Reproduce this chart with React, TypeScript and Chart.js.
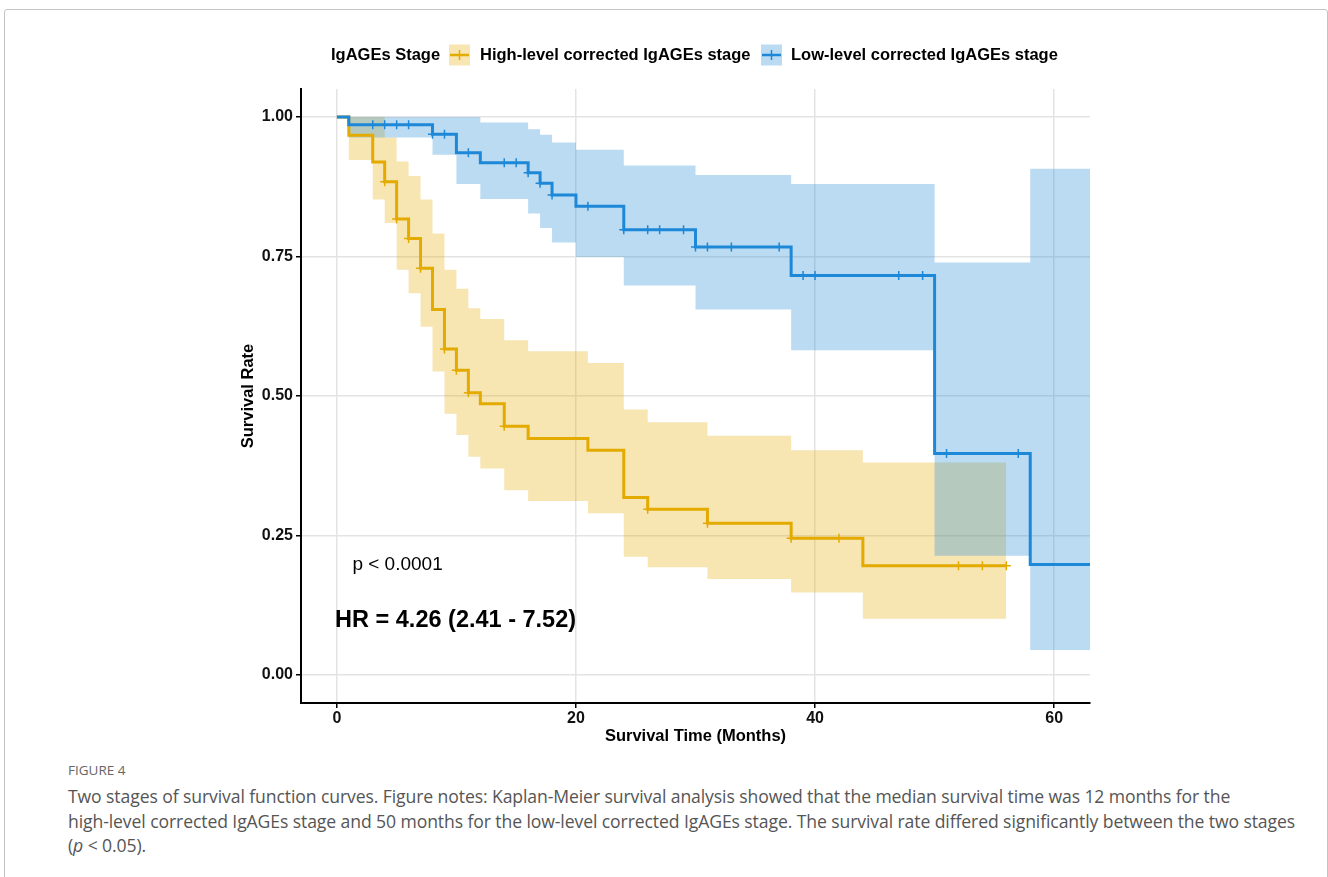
import React, { useEffect, useRef } from 'react';
import { Chart, registerables } from 'chart.js';

Chart.register(...registerables);

const FONT = '"Liberation Sans", Arial, Helvetica, sans-serif';

// Axes
const xTicks = [0, 20, 40, 60];
const yTicks = [0, 0.25, 0.5, 0.75, 1];
const xRange = [-3, 63];
const yRange = [-0.05, 1.05];
const xTitle = 'Survival Time (Months)';
const yTitle = 'Survival Rate';

// Legend / labels
const legendTitle = 'IgAGEs Stage';
const seriesNames = ['High-level corrected IgAGEs stage', 'Low-level corrected IgAGEs stage'];
const pValueText = 'p < 0.0001';
const hrText = 'HR = 4.26 (2.41 - 7.52)';

// High-level corrected IgAGEs stage (Kaplan-Meier steps)
const highTimes = [0, 1, 3, 4, 5, 6, 7, 8, 9, 10, 11, 12, 14, 16, 21, 24, 26, 31, 38, 44, 56];
const highSurv = [1, 0.967, 0.919, 0.884, 0.817, 0.782, 0.729, 0.655, 0.584, 0.546, 0.506, 0.486, 0.446, 0.424, 0.403, 0.318, 0.297, 0.272, 0.245, 0.196, 0.196];
const highUpper = [1, 1, 1, 0.963, 0.92, 0.894, 0.852, 0.791, 0.726, 0.692, 0.657, 0.638, 0.6, 0.58, 0.559, 0.476, 0.453, 0.429, 0.403, 0.381, 0.381];
const highLower = [1, 0.923, 0.852, 0.81, 0.726, 0.684, 0.624, 0.544, 0.468, 0.43, 0.391, 0.37, 0.331, 0.312, 0.29, 0.212, 0.193, 0.172, 0.148, 0.101, 0.101];
const highCensor = [4, 5, 6, 7, 9, 10, 11, 14, 26, 31, 38, 42, 52, 54, 56];

// Low-level corrected IgAGEs stage
const lowTimes = [0, 1, 8, 10, 12, 16, 17, 18, 20, 24, 30, 38, 50, 58, 63];
const lowSurv = [1, 0.986, 0.969, 0.936, 0.918, 0.9, 0.881, 0.86, 0.84, 0.798, 0.767, 0.716, 0.397, 0.198, 0.198];
const lowUpper = [1, 1, 1, 1, 0.99, 0.978, 0.968, 0.954, 0.941, 0.913, 0.896, 0.88, 0.739, 0.907, 0.907];
const lowLower = [1, 0.963, 0.932, 0.88, 0.853, 0.827, 0.801, 0.775, 0.749, 0.698, 0.655, 0.582, 0.214, 0.045, 0.045];
const lowCensor = [3, 4, 5, 6, 8, 9, 11, 14, 15, 16, 17, 18, 21, 24, 26, 27, 29, 30, 31, 33, 37, 39, 40, 47, 49, 51, 57];

// Annotation anchors (data coordinates)
const pValuePos = { x: 1.3, y: 0.197 };
const hrPos = { x: -0.15, y: 0.097 };

const GOLD = '#E3AA00';
const GOLD_BAND = 'rgba(227,170,0,0.30)';
const BLUE = '#1E88D8';
const BLUE_BAND = 'rgba(30,136,216,0.30)';

const pts = (t: number[], v: number[]) => t.map((x, i) => ({ x, y: v[i] }));
const stepAt = (times: number[], surv: number[], t: number) => {
  let s = surv[0];
  for (let i = 0; i < times.length; i++) if (times[i] <= t) s = surv[i];
  return s;
};
const censorPts = (c: number[], times: number[], surv: number[]) =>
  c.map((t) => ({ x: t, y: stepAt(times, surv, t) }));

function drawSwatch(ctx: CanvasRenderingContext2D, x: number, y: number, size: number, fill: string, line: string) {
  ctx.fillStyle = fill;
  ctx.fillRect(x, y - size / 2, size, size);
  ctx.strokeStyle = line;
  ctx.lineWidth = 2.5;
  ctx.beginPath();
  ctx.moveTo(x + 1, y);
  ctx.lineTo(x + size - 1, y);
  ctx.stroke();
  ctx.lineWidth = 1.5;
  ctx.beginPath();
  ctx.moveTo(x + size / 2, y - 5);
  ctx.lineTo(x + size / 2, y + 5);
  ctx.stroke();
}

const overlayPlugin = {
  id: 'overlay',
  afterDraw(chart: any) {
    const ctx: CanvasRenderingContext2D = chart.ctx;
    const xs = chart.scales.x;
    const ys = chart.scales.y;
    ctx.save();
    ctx.textBaseline = 'middle';
    ctx.textAlign = 'left';
    ctx.fillStyle = '#000';
    // legend
    ctx.font = `bold 16.5px ${FONT}`;
    const ly = 55;
    ctx.fillText(legendTitle, 331, ly);
    drawSwatch(ctx, 449, ly, 21, GOLD_BAND, GOLD);
    ctx.fillStyle = '#000';
    ctx.fillText(seriesNames[0], 480, ly);
    drawSwatch(ctx, 761, ly, 21, BLUE_BAND, BLUE);
    ctx.fillStyle = '#000';
    ctx.fillText(seriesNames[1], 791, ly);
    // annotations
    ctx.font = `19px ${FONT}`;
    ctx.fillText(pValueText, xs.getPixelForValue(pValuePos.x), ys.getPixelForValue(pValuePos.y));
    ctx.font = `bold 23.5px ${FONT}`;
    ctx.fillText(hrText, xs.getPixelForValue(hrPos.x), ys.getPixelForValue(hrPos.y));
    ctx.restore();
  },
};

function KMChart() {
  const ref = useRef<HTMLCanvasElement>(null);
  useEffect(() => {
    if (!ref.current) return;
    const bandBase = { borderWidth: 0, pointRadius: 0, stepped: true as const };
    const chart = new Chart(ref.current, {
      type: 'line',
      data: {
        datasets: [
          { ...bandBase, label: 'gu', data: pts(highTimes, highUpper), fill: '+1', backgroundColor: GOLD_BAND, borderColor: 'transparent', order: 9 },
          { ...bandBase, label: 'gl', data: pts(highTimes, highLower), fill: false, borderColor: 'transparent', order: 9 },
          { ...bandBase, label: 'bu', data: pts(lowTimes, lowUpper), fill: '+1', backgroundColor: BLUE_BAND, borderColor: 'transparent', order: 8 },
          { ...bandBase, label: 'bl', data: pts(lowTimes, lowLower), fill: false, borderColor: 'transparent', order: 8 },
          { label: seriesNames[0], data: pts(highTimes, highSurv), stepped: true, borderColor: GOLD, borderWidth: 3, pointRadius: 0, fill: false, order: 4 },
          { label: seriesNames[1], data: pts(lowTimes, lowSurv), stepped: true, borderColor: BLUE, borderWidth: 3, pointRadius: 0, fill: false, order: 3 },
          { label: 'gc', data: censorPts(highCensor, highTimes, highSurv), showLine: false, pointStyle: 'cross', pointRadius: 4.5, pointBorderWidth: 1.5, pointBorderColor: GOLD, borderColor: GOLD, order: 2 },
          { label: 'bc', data: censorPts(lowCensor, lowTimes, lowSurv), showLine: false, pointStyle: 'cross', pointRadius: 4.5, pointBorderWidth: 1.5, pointBorderColor: BLUE, borderColor: BLUE, order: 1 },
        ] as any,
      },
      options: {
        responsive: false,
        animation: false,
        events: [],
        layout: { padding: { top: 89, left: 230, right: 238, bottom: 10 } },
        plugins: { legend: { display: false }, tooltip: { enabled: false } },
        scales: {
          x: {
            type: 'linear',
            min: xRange[0],
            max: xRange[1],
            afterBuildTicks: (s: any) => { s.ticks = xTicks.map((v) => ({ value: v })); },
            afterFit: (s: any) => { s.height = 47; },
            ticks: { color: '#111', font: { family: FONT, size: 16, weight: 'bold' }, padding: 1, maxRotation: 0 },
            grid: { color: '#e3e3e3', lineWidth: 1.5, tickColor: '#000', tickLength: 5, tickWidth: 1.5 },
            border: { display: true, color: '#000', width: 2 },
            title: { display: true, text: xTitle, color: '#000', font: { family: FONT, size: 16.5, weight: 'bold' }, padding: { top: 0, bottom: 4 } },
          },
          y: {
            type: 'linear',
            min: yRange[0],
            max: yRange[1],
            afterBuildTicks: (s: any) => { s.ticks = yTicks.map((v) => ({ value: v })); },
            afterFit: (s: any) => { s.width = 71; },
            ticks: { color: '#111', font: { family: FONT, size: 16, weight: 'bold' }, padding: 3, callback: (v: any) => Number(v).toFixed(2) },
            grid: { color: '#e3e3e3', lineWidth: 1.5, tickColor: '#000', tickLength: 5, tickWidth: 1.5 },
            border: { display: true, color: '#000', width: 2 },
            title: { display: true, text: yTitle, color: '#000', font: { family: FONT, size: 16.5, weight: 'bold' }, padding: { top: 9, bottom: 0 } },
          },
        },
      } as any,
      plugins: [overlayPlugin],
    });
    return () => chart.destroy();
  }, []);
  return <canvas ref={ref} width={1328} height={760} style={{ position: 'absolute', left: 0, top: 0 }} />;
}

export default function App() {
  return (
    <div style={{ position: 'fixed', inset: 0, overflow: 'hidden', background: '#fff' }}>
      <div style={{ position: 'absolute', left: 4, top: 9, width: 1322, height: 900, border: '1px solid #c4c4c4', borderRadius: 3 }} />
      <KMChart />
      <div style={{ position: 'absolute', left: 68, top: 762, font: '13.5px "Open Sans", sans-serif', color: '#666', lineHeight: '16px' }}>FIGURE 4</div>
      <div style={{ position: 'absolute', left: 68, top: 784, font: '17.6px "Open Sans", sans-serif', lineHeight: '24.5px', color: '#555', whiteSpace: 'nowrap', letterSpacing: '-0.1px' }}>
        <div>Two stages of survival function curves. Figure notes: Kaplan-Meier survival analysis showed that the median survival time was 12 months for the</div>
        <div>high-level corrected IgAGEs stage and 50 months for the low-level corrected IgAGEs stage. The survival rate differed significantly between the two stages</div>
        <div>(<i>p</i> &lt; 0.05).</div>
      </div>
    </div>
  );
}
